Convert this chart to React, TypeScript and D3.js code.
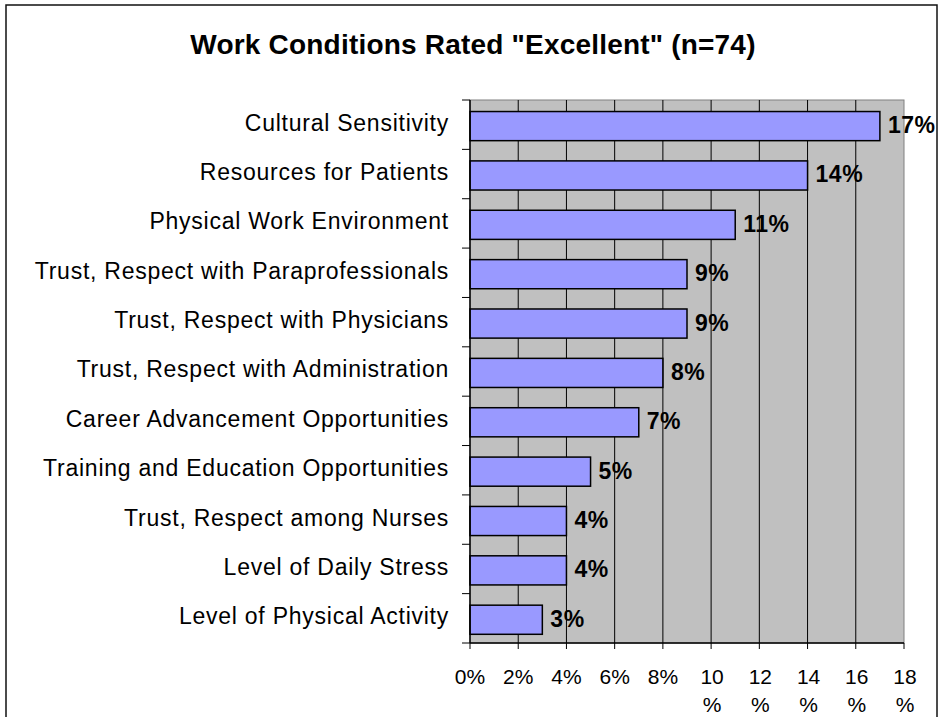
import React from "react";
import * as d3 from "d3";

const categories = [
  "Cultural Sensitivity",
  "Resources for Patients",
  "Physical Work Environment",
  "Trust, Respect with Paraprofessionals",
  "Trust, Respect with Physicians",
  "Trust, Respect with Administration",
  "Career Advancement Opportunities",
  "Training and Education Opportunities",
  "Trust, Respect among Nurses",
  "Level of Daily Stress",
  "Level of Physical Activity",
];
const values = [17, 14, 11, 9, 9, 8, 7, 5, 4, 4, 3];
const ticks = [0, 2, 4, 6, 8, 10, 12, 14, 16, 18];

const WIDTH = 939;
const HEIGHT = 717;
const FONT = "Liberation Sans, Arial, sans-serif";

const App = () => {
  const left = 470;
  const right = 904;
  const top = 100;
  const bottom = 643;

  const xScale = d3.scaleLinear().domain([0, 18]).range([left, right]);
  const yScale = d3
    .scaleBand()
    .domain(categories)
    .range([top, bottom])
    .paddingInner(0.41)
    .paddingOuter(0.205)
    .align(0.57);
  const step = yScale.step();
  const bw = yScale.bandwidth();

  return (
    <svg
      width={WIDTH}
      height={HEIGHT}
      style={{ position: "absolute", left: 0, top: 0 }}
      fontFamily={FONT}
    >
      <rect x={0} y={0} width={WIDTH} height={HEIGHT} fill="#fff" />
      <rect x={6} y={5} width={931} height={800} fill="none" stroke="#111" strokeWidth={1.5} />
      <text x={473} y={54} textAnchor="middle" fontSize={28} fontWeight="bold" letterSpacing={0.2}>
        Work Conditions Rated "Excellent" (n=74)
      </text>

      {/* plot area */}
      <rect x={left} y={top} width={right - left} height={bottom - top} fill="#c0c0c0" stroke="#808080" strokeWidth={1} />
      {ticks.slice(1, -1).map((t) => (
        <line key={t} x1={xScale(t)} x2={xScale(t)} y1={top} y2={bottom} stroke="#000" strokeWidth={1} />
      ))}

      {/* bars */}
      {categories.map((c, i) => {
        const y = yScale(c)!;
        const w = xScale(values[i]) - left;
        return (
          <g key={c}>
            <rect x={left} y={y} width={w} height={bw} fill="#9999ff" stroke="#000" strokeWidth={1.5} />
            <text x={left + w + 8} y={y + bw / 2 + 7} fontSize={23} fontWeight="bold" letterSpacing={0.5}>
              {values[i]}%
            </text>
            <text x={449} y={y + bw / 2 + 4.5} fontSize={23} textAnchor="end" letterSpacing={0.75}>
              {c}
            </text>
          </g>
        );
      })}

      {/* axes */}
      <line x1={left} x2={left} y1={top} y2={bottom} stroke="#000" strokeWidth={1.5} />
      <line x1={left} x2={right} y1={bottom} y2={bottom} stroke="#000" strokeWidth={1.5} />
      {d3.range(categories.length + 1).map((i) => (
        <line key={i} x1={left - 8} x2={left} y1={top + i * step} y2={top + i * step} stroke="#000" strokeWidth={1} />
      ))}
      {ticks.map((t) => (
        <g key={t}>
          <line x1={xScale(t)} x2={xScale(t)} y1={bottom} y2={bottom + 6} stroke="#000" strokeWidth={1} />
          {t < 10 ? (
            <text x={xScale(t)} y={684} textAnchor="middle" fontSize={21}>
              {t}%
            </text>
          ) : (
            <text x={xScale(t) + 1} y={684} textAnchor="middle" fontSize={21}>
              {t}
              <tspan x={xScale(t) + 1} y={712}>%</tspan>
            </text>
          )}
        </g>
      ))}
    </svg>
  );
};

export default App;
